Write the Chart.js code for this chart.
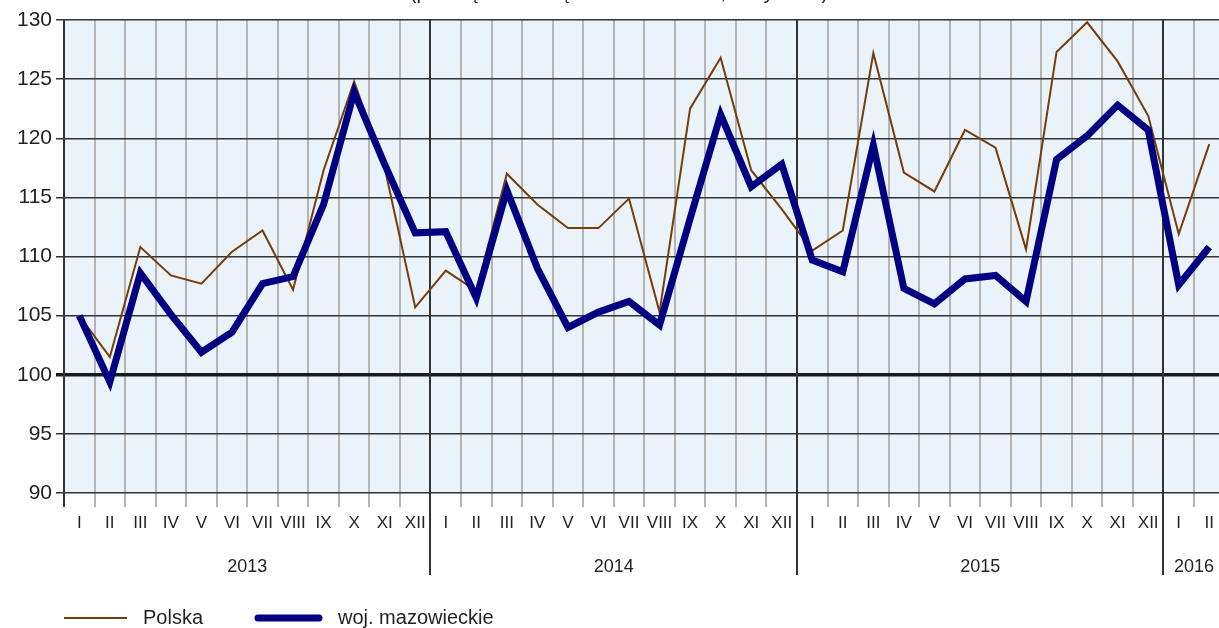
<!DOCTYPE html>
<html><head><meta charset="utf-8">
<script src="https://cdn.jsdelivr.net/npm/chart.js@4/dist/chart.umd.min.js"></script>
<style>html,body{margin:0;padding:0;background:#fff;overflow:hidden;width:1219px;height:628px}canvas{display:block}</style>
</head><body>
<canvas id="c" width="1226" height="628"></canvas>
<script>
const categories = [
  'I','II','III','IV','V','VI','VII','VIII','IX','X','XI','XII',
  'I','II','III','IV','V','VI','VII','VIII','IX','X','XI','XII',
  'I','II','III','IV','V','VI','VII','VIII','IX','X','XI','XII',
  'I','II'
];
const years = ['2013','2014','2015','2016'];
const monthsPerYear = [12,12,12,2];
const polska = [
  105.0,101.5,110.8,108.4,107.7,110.4,112.2,107.2,117.3,124.8,117.5,105.7,
  108.8,107.1,117.0,114.4,112.4,112.4,114.9,105.3,122.5,126.8,117.3,114.0,
  110.5,112.2,127.2,117.1,115.5,120.7,119.2,110.6,127.3,129.8,126.5,121.9,
  111.9,119.5
];
const mazowieckie = [
  105.0,99.4,108.6,105.1,101.9,103.6,107.7,108.3,114.4,123.9,117.8,112.0,
  112.1,106.5,115.6,109.0,104.0,105.3,106.2,104.2,113.2,122.0,115.9,117.8,
  109.7,108.7,119.4,107.3,106.0,108.1,108.4,106.2,118.2,120.2,122.8,120.7,
  107.6,110.8
];
const yMin = 90, yMax = 130, yStep = 5;
const seriesNames = ['Polska','woj. mazowieckie'];
const titleText = '(przeciętna miesięczna 2010 = 100; ceny stałe)';

const FONT = '"Liberation Sans", Arial, sans-serif';
const C_BROWN = '#773c0a', C_NAVY = '#000080', C_DARK = '#333333', C_LIGHT = '#b4b4b4', C_TEXT = '#231f20';

const decor = {
  id: 'decor',
  beforeDraw(chart) {
    const {ctx, chartArea: a, scales: {x}} = chart;
    ctx.save();
    ctx.fillStyle = '#eaf3fa';
    ctx.fillRect(a.left, a.top, a.right - a.left, a.bottom - a.top);
    const half = (x.getPixelForValue(1) - x.getPixelForValue(0)) / 2;
    ctx.strokeStyle = C_LIGHT; ctx.lineWidth = 2;
    for (let i = 1; i < categories.length; i++) {
      if (categories[i] === 'I') continue;
      const px = Math.round(x.getPixelForValue(i) - half);
      ctx.beginPath(); ctx.moveTo(px, a.top); ctx.lineTo(px, a.bottom + 14); ctx.stroke();
    }
    ctx.restore();
  },
  beforeDatasetsDraw(chart) {
    const {ctx, chartArea: a, scales: {x}} = chart;
    ctx.save();
    const half = (x.getPixelForValue(1) - x.getPixelForValue(0)) / 2;
    ctx.strokeStyle = C_DARK; ctx.lineWidth = 2;
    for (let i = 1; i < categories.length; i++) {
      if (categories[i] !== 'I') continue;
      const px = Math.round(x.getPixelForValue(i) - half);
      ctx.beginPath(); ctx.moveTo(px, a.top); ctx.lineTo(px, a.bottom + 82); ctx.stroke();
    }
    ctx.beginPath(); ctx.moveTo(a.left, a.bottom); ctx.lineTo(a.left, a.bottom + 14); ctx.stroke();
    ctx.restore();
  },
  afterDraw(chart) {
    const {ctx, chartArea: a, scales: {x}} = chart;
    ctx.save();
    ctx.fillStyle = C_TEXT;
    ctx.font = '18px ' + FONT;
    ctx.textAlign = 'center'; ctx.textBaseline = 'middle';
    let s = 0;
    years.forEach((yr, k) => {
      const n = monthsPerYear[k];
      const cx = (x.getPixelForValue(s) + x.getPixelForValue(s + n - 1)) / 2;
      ctx.fillText(yr, cx, a.bottom + 74);
      s += n;
    });
    // title (cut off at top, as in reference)
    ctx.font = '20px ' + FONT;
    ctx.textBaseline = 'alphabetic';
    ctx.fillText(titleText, 619, -1);
    // legend
    const ly = 618;
    ctx.lineCap = 'butt';
    ctx.strokeStyle = C_BROWN; ctx.lineWidth = 2;
    ctx.beginPath(); ctx.moveTo(64, ly); ctx.lineTo(127, ly); ctx.stroke();
    ctx.strokeStyle = C_NAVY; ctx.lineWidth = 7; ctx.lineCap = 'round';
    ctx.beginPath(); ctx.moveTo(258, ly); ctx.lineTo(319, ly); ctx.stroke();
    ctx.font = '20px ' + FONT;
    ctx.textAlign = 'left'; ctx.textBaseline = 'middle';
    ctx.fillText(seriesNames[0], 143, ly);
    ctx.fillText(seriesNames[1], 338, ly);
    ctx.restore();
  }
};

new Chart(document.getElementById('c'), {
  type: 'line',
  data: {
    labels: categories,
    datasets: [
      {label: seriesNames[0], data: polska, borderColor: C_BROWN, borderWidth: 2, pointRadius: 0, tension: 0, order: 2, borderJoinStyle: 'miter'},
      {label: seriesNames[1], data: mazowieckie, borderColor: C_NAVY, borderWidth: 7, pointRadius: 0, tension: 0, order: 1, borderJoinStyle: 'miter'}
    ]
  },
  options: {
    responsive: false,
    animation: false,
    devicePixelRatio: 1,
    layout: {padding: {top: 20, left: 0, right: 0, bottom: 0}},
    plugins: {legend: {display: false}, tooltip: {enabled: false}, title: {display: false}},
    scales: {
      x: {
        offset: true,
        grid: {display: false},
        border: {display: false},
        ticks: {autoSkip: false, maxRotation: 0, minRotation: 0, padding: 12, color: C_TEXT, font: {family: FONT, size: 17}},
        afterFit(s) { s.height = 135; }
      },
      y: {
        min: yMin, max: yMax,
        ticks: {stepSize: yStep, padding: 4, color: C_TEXT, font: {family: FONT, size: 21}},
        grid: {
          color: (c) => c.tick && c.tick.value === 100 ? '#1a1a1a' : C_DARK,
          lineWidth: (c) => c.tick && c.tick.value === 100 ? 3.5 : 1.5,
          tickLength: 8, drawTicks: true
        },
        border: {display: true, color: C_DARK, width: 2},
        afterFit(s) { s.width = 64; }
      }
    }
  },
  plugins: [decor]
});
</script>
</body></html>
